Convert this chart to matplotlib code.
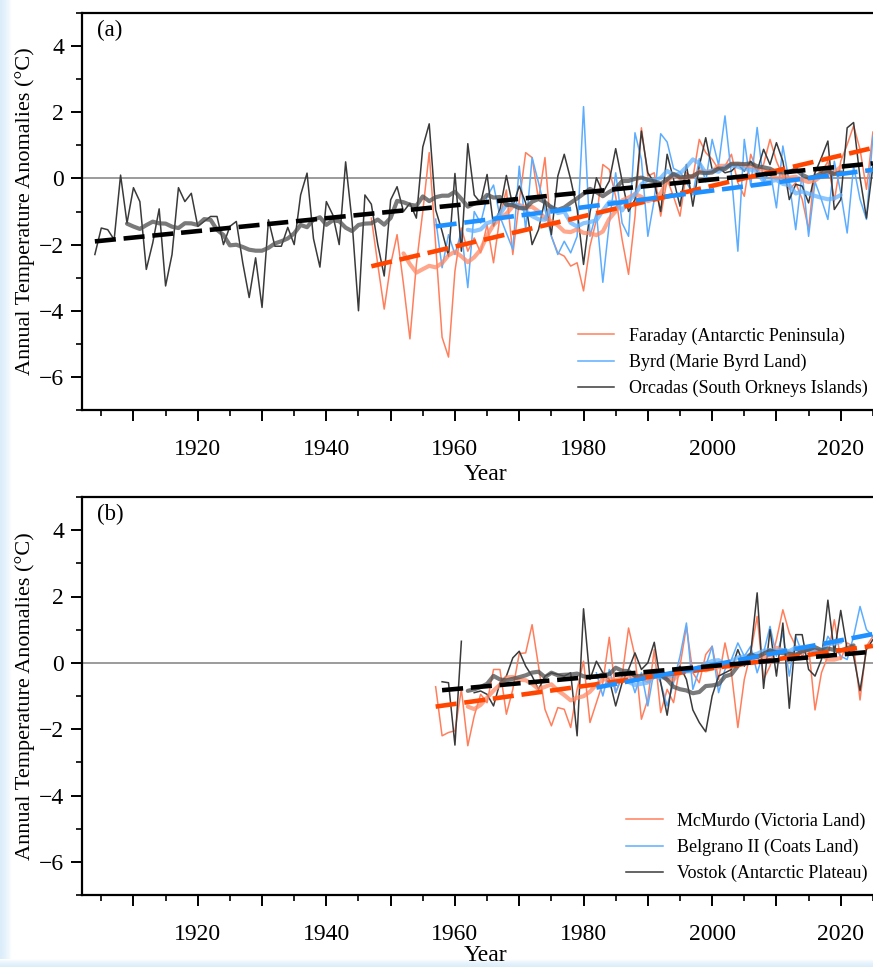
import numpy as np
import pandas as pd
import matplotlib
matplotlib.use("Agg")
import matplotlib.pyplot as plt
from matplotlib.ticker import MultipleLocator, FixedLocator

plt.rcParams['font.family'] = ['Liberation Serif', 'DejaVu Serif']

# ---------------- data (panel a) ----------------
orcadas_start = 1904
orcadas = [-2.3, -1.5, -1.55, -1.85, 0.1, -1.35, -0.28, -0.7, -2.75, -1.95,
           -0.92, -3.25, -2.3, -0.28, -0.7, -0.45, -1.45, -1.3, -1.15, -1.15,
           -2.0, -1.45, -1.3, -2.55, -3.6, -2.4, -3.9, -1.25, -2.05, -2.05,
           -1.48, -2.0, -0.5, 0.16, -1.82, -2.68, -0.7, -1.1, -2.0, 0.5,
           -1.3, -4.0, -0.5, -0.78, -2.0, -2.95, -0.65, -0.25, -1.0, -0.75,
           -1.2, 0.95, 1.65, -0.95, -1.6, -2.35, 0.15, -2.2, 1.05, -0.5,
           -0.74, 0.12, -1.44, -0.94, 0.09, -0.84, -0.23, -0.74, -2.0, -1.55,
           -0.64, -1.7, 0.07, 0.73, -0.03, -0.94, -2.6, -1.04, 0.02, -0.43,
           -0.08, 0.9, -0.08, -1.0, -0.64, 1.43, 0.17, -0.13, -1.0, 0.73,
           -0.03, -0.84, 0.42, -0.84, 0.37, 1.23, 0.27, 0.32, 0.17, 0.22,
           0.42, 0.22, 0.52, 0.22, 0.88, 0.42, 1.08, 0.52, -0.64, -0.18,
           -0.23, -0.74, 0.17, 0.63, 1.13, -0.94, -0.64, 1.53, 1.69, 0.02,
           -1.2, 0.37]

faraday_start = 1947
faraday = [-1.2, -2.6, -3.95, -2.6, -1.7, -3.2, -4.85, -2.6, -1.0, 0.78,
           -2.0, -4.8, -5.4, -2.8, -1.5, -2.2, -1.8, -2.25, -1.4, -2.55,
           -1.15, -0.35, -2.3, -0.7, 0.78, 0.63, -0.65, 0.63, -1.75, -2.25,
           -2.35, -2.65, -2.55, -3.4, -2.05, -1.25, 0.42, 0.27, -0.55, -1.85,
           -2.9, -1.15, 1.53, 0.07, 0.17, -1.14, -0.03, -0.55, -1.14, 0.17,
           0.02, 1.18, 0.78, 0.58, 0.27, 0.37, 0.73, -0.13, -0.54, 0.73,
           0.22, 0.42, 1.18, 0.52, 0.07, -0.33, -0.13, -0.63, -1.55, 0.32,
           0.17, 0.52, -0.68, 0.52, 1.02, 1.59, 0.88, -0.33, 1.4]

byrd_start = 1957
byrd = [-1.23, -2.7, -1.7, -2.3, -1.6, -3.3, -1.0, -1.35, -0.55, -0.2,
        -1.15, -1.65, -2.15, 0.37, -1.55, 0.63, -0.13, -0.94, -1.75, -2.3,
        -1.9, -2.25, -1.75, 2.17, -1.75, -1.04, -3.14, -1.35, 0.17, -1.35,
        -1.75, 1.38, 0.57, -1.75, -0.64, 1.35, 1.1, 0.3, 0.2, -0.1,
        -0.5, 0.6, -0.1, 1.18, 0.4, 1.89, 0.1, -2.2, 1.18, -0.23,
        1.54, -0.13, 0.27, -0.89, 0.98, -0.13, -1.55, 0.17, -1.75, -0.1,
        -0.64, -1.24, 0.52, -0.43, -1.65, 0.37, -0.63, -1.24, 1.28]

# ---------------- data (panel b) ----------------
mcmurdo_start = 1957
mcmurdo = [-0.72, -2.2, -2.1, -2.05, -0.8, -2.5, -1.6, -0.95, -1.2, -0.2,
           -0.2, -1.55, -0.8, 0.28, 0.3, 1.15, -0.1, -1.4, -1.9, -1.35,
           -1.4, -1.95, -0.8, 0.05, -1.8, -1.2, -0.6, 0.77, -0.9, -0.4,
           1.05, 0.2, -1.7, -1.1, 0.4, -1.5, -0.8, -1.2, -0.1, 1.1,
           -0.3, -0.6, 0.25, 0.5, -0.5, 0.6, -0.3, -1.95, -0.5, 0.3,
           1.4, -0.5, -0.1, 0.7, 1.6, 0.9, 0.5, 0.2, 0.5, -1.42,
           -0.3, 0.2, 1.3, 0.1, 0.6, 0.5, -1.12, 0.5, 0.8]

belgrano_start = 1982
belgrano = [-0.3, -1.0, -0.2, -0.9, -0.4, -0.25, -0.9, -0.3, -1.3, -0.2,
            -0.6, -1.3, -0.6, 0.2, 1.2, -0.8, -0.2, -0.1, 0.5, -0.9,
            -0.2, 0.1, 0.6, 0.2, 0.5, -0.3, 0.3, 1.1, 0.2, 0.9,
            -0.4, 0.8, 0.3, 0.4, 0.4, 0.2, 0.8, 0.5, 0.2, 0.1,
            0.8, 1.7, 1.0, 0.8]

vostok_start = 1958
vostok = [-0.57, -0.6, -2.48, 0.65, np.nan, -0.9, -0.85, -0.95, -1.3, -0.6,
          -0.4, 0.15, 0.35, -0.1, -0.4, -0.8, -0.4, -0.3, -0.35, -0.4,
          -0.3, -2.2, 1.63, -0.5, 0.05, -0.3, -0.5, -1.3, -0.6, -0.2,
          0.3, -0.2, 0.0, 0.62, -0.6, -1.58, -0.3, -0.1, -0.5, -1.42,
          -1.8, -2.08, -1.0, -0.4, -0.3, -0.2, 0.4, -0.1, 0.3, 2.11,
          -0.77, 1.0, -0.4, 1.2, -1.37, 0.85, 0.85, -0.2, -0.4, 0.1,
          1.89, 0.3, 1.58, 0.4, 0.2, -0.84, 0.4, 0.7]

panel_a = [
    ("Faraday (Antarctic Peninsula)", faraday_start, faraday, "orange", 11),
    ("Byrd (Marie Byrd Land)", byrd_start, byrd, "blue", 11),
    ("Orcadas (South Orkneys Islands)", orcadas_start, orcadas, "black", 11),
]
panel_b = [
    ("McMurdo (Victoria Land)", mcmurdo_start, mcmurdo, "orange", 11),
    ("Belgrano II (Coats Land)", belgrano_start, belgrano, "blue", 11),
    ("Vostok (Antarctic Plateau)", vostok_start, vostok, "black", 9),
]

styles = {
    "orange": dict(thin="#FF7F5C", smooth="#FF8A66", trend="#FF4500"),
    "blue": dict(thin="#5CADFF", smooth="#66B3FF", trend="#1E90FF"),
    "black": dict(thin="#3A3A3A", smooth="#4D4D4D", trend="#000000"),
}

W, H = 873, 967
fig = plt.figure(figsize=(W / 100, H / 100), dpi=100)


def band(rect, horizontal):
    """faint light-blue edge band of the source screenshot"""
    a = fig.add_axes(rect, zorder=-5)
    t = np.linspace(0, 1, 40)
    base = np.array([0.86, 0.93, 0.98])
    rgb = base[None, :] + (1 - base[None, :]) * t[:, None] ** 1.5
    img = rgb[None, :, :] if horizontal else rgb[::-1][:, None, :]
    a.imshow(img, aspect="auto", extent=(0, 1, 0, 1))
    a.set_axis_off()


band([0, 0, 12 / W, 1], True)
band([0, 0, 1, 8 / H], False)

axw = 807 / W
ax_a = fig.add_axes([82 / W, 1 - 410 / H, axw, 397 / H])
ax_b = fig.add_axes([82 / W, 1 - 895 / H, axw, 398 / H])


def draw(ax, series, label, xlabelpad):
    ax.axhline(0, color="#808080", lw=1.1, zorder=1)
    handles = []
    for name, start, vals, key, minp in series:
        st = styles[key]
        yrs = np.arange(start, start + len(vals))
        v = np.array(vals, dtype=float)
        h, = ax.plot(yrs, v, color=st["thin"], lw=1.1, zorder=2, label=name)
        handles.append(h)
        sm = pd.Series(v).rolling(11, center=True, min_periods=minp).mean()
        ax.plot(yrs, sm, color=st["smooth"], lw=3.0, alpha=0.75, zorder=3,
                solid_capstyle="round")
    for name, start, vals, key, minp in series:
        st = styles[key]
        yrs = np.arange(start, start + len(vals))
        v = np.array(vals, dtype=float)
        ok = ~np.isnan(v)
        c = np.polyfit(yrs[ok], v[ok], 1)
        ax.plot(yrs, np.polyval(c, yrs), color=st["trend"], lw=3.3,
                linestyle=(0, (4.6, 1.7)), zorder=4)
    ax.set_xlim(1902, 1902 + 807 / 6.43)
    ax.set_ylim(-7, 5)
    ax.xaxis.set_major_locator(FixedLocator(np.arange(1910, 2030, 10)))
    ax.xaxis.set_minor_locator(MultipleLocator(5))
    ax.set_xticklabels([str(y) if y % 20 == 0 else "" for y in range(1910, 2030, 10)])
    ax.yaxis.set_major_locator(MultipleLocator(2))
    ax.yaxis.set_minor_locator(MultipleLocator(1))
    ax.tick_params(which="major", direction="out", length=8, width=1.4,
                   labelsize=17)
    ax.tick_params(axis="x", which="major", pad=13)
    ax.tick_params(axis="y", which="major", pad=5)
    ax.tick_params(which="minor", direction="out", length=4.5, width=1.2)
    for s in ax.spines.values():
        s.set_linewidth(1.6)
    ax.set_xlabel("Year", fontsize=17, labelpad=xlabelpad)
    ax.set_ylabel("Annual Temperature Anomalies (\u00b0C)", fontsize=16, labelpad=3)
    ax.text(0.019, 0.957, label, transform=ax.transAxes, fontsize=16.5,
            va="center", ha="left")
    ax.legend(handles=handles, loc="lower right", bbox_to_anchor=(0.989, 0.0),
              frameon=False, fontsize=13, handlelength=2.0, labelspacing=0.5,
              borderaxespad=0.3)


draw(ax_a, panel_a, "(a)", 3)
draw(ax_b, panel_b, "(b)", 0)

fig.savefig("out.png", dpi=100)
